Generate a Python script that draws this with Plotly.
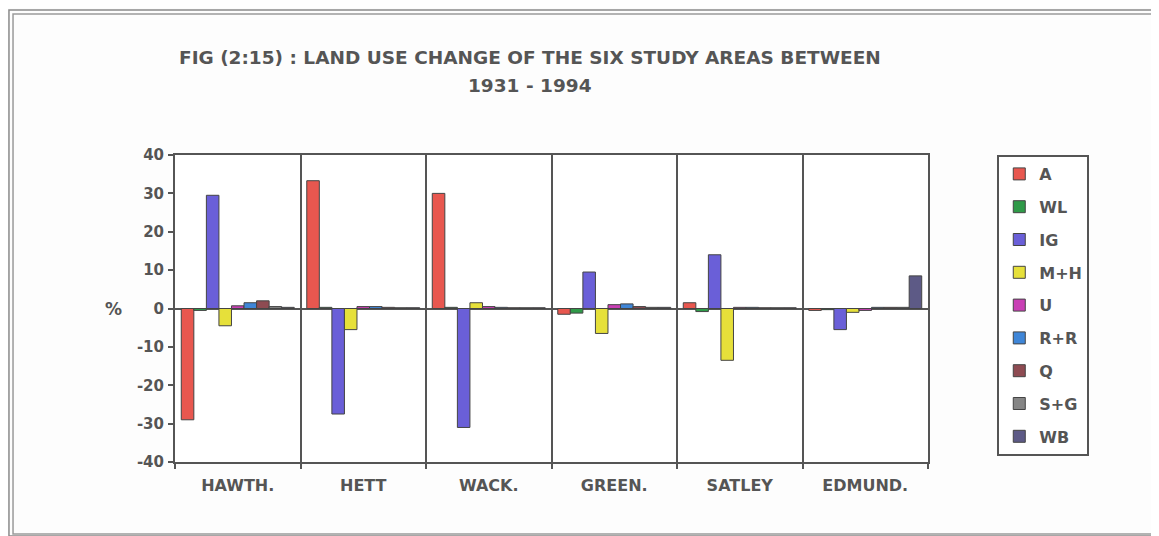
import plotly.graph_objects as go

areas = ["HAWTH.", "HETT", "WACK.", "GREEN.", "SATLEY", "EDMUND."]
series_names = ["A", "WL", "IG", "M+H", "U", "R+R", "Q", "S+G", "WB"]

A = [-29.0, 33.3, 30.0, -1.5, 1.5, -0.5]
WL = [-0.5, 0.3, 0.3, -1.2, -0.8, -0.3]
IG = [29.5, -27.5, -31.0, 9.5, 14.0, -5.5]
MH = [-4.5, -5.5, 1.5, -6.5, -13.5, -1.0]
U = [0.7, 0.5, 0.5, 1.0, 0.3, -0.5]
RR = [1.5, 0.5, 0.3, 1.2, 0.3, 0.3]
Q = [2.0, 0.3, 0.2, 0.5, 0.2, 0.3]
SG = [0.5, 0.2, 0.2, 0.3, 0.2, 0.3]
WB = [0.3, 0.2, 0.2, 0.3, 0.2, 8.5]

values = [A, WL, IG, MH, U, RR, Q, SG, WB]
colors = ["#e8574f", "#2f9a48", "#6a5fd8", "#e6e03a", "#c93fb5",
          "#3f86d8", "#8e4b52", "#858585", "#5d5a86"]

y_ticks = [-40, -30, -20, -10, 0, 10, 20, 30, 40]
y_tick_labels = [str(v) for v in y_ticks]

title_line1 = "FIG (2:15) : LAND USE CHANGE OF THE SIX STUDY AREAS BETWEEN"
title_line2 = "1931 - 1994"

TXT = "#555555"
LINE = "#555555"
FONT = "DejaVu Sans, Liberation Sans, sans-serif"

fig = go.Figure()
for name, vals, col in zip(series_names, values, colors):
    fig.add_trace(go.Bar(
        x=areas, y=vals, name=name, legendgroup=name,
        marker=dict(color=col, line=dict(color="#444444", width=1)),
    ))

fig.update_layout(
    width=1151, height=528,
    margin=dict(l=167, r=231, t=147, b=74),
    paper_bgcolor="#fdfdfd", plot_bgcolor="#ffffff",
    barmode="group", bargap=0.1, bargroupgap=0.0,
    font=dict(family=FONT, color=TXT, size=14),
    legend=dict(
        x=1.092, xanchor="left", y=1.0, yanchor="top",
        bordercolor=LINE, borderwidth=2, bgcolor="#ffffff",
        font=dict(family=FONT, size=16, color=TXT, weight="bold"),
        tracegroupgap=9, traceorder="grouped",
        itemwidth=30,
    ),
    showlegend=True,
)

fig.update_xaxes(
    type="category", tickson="boundaries",
    showgrid=True, gridcolor=LINE, gridwidth=2,
    showline=True, linecolor=LINE, linewidth=2, mirror=True,
    ticks="outside", ticklen=5, tickcolor=LINE, tickwidth=2,
    ticklabelstandoff=8,
    tickfont=dict(family=FONT, size=16, color=TXT, weight="bold"),
)
fig.update_yaxes(
    range=[-40, 40], tickvals=y_ticks, ticktext=y_tick_labels,
    showgrid=False,
    zeroline=True, zerolinecolor=LINE, zerolinewidth=2,
    showline=True, linecolor=LINE, linewidth=2, mirror=True,
    ticks="outside", ticklen=5, tickcolor=LINE, tickwidth=2,
    ticklabelstandoff=1,
    tickfont=dict(family=FONT, size=15, color=TXT, weight="bold"),
)

fig.add_annotation(
    text=title_line1, xref="paper", yref="paper", x=0.4714, y=1.316,
    xanchor="center", yanchor="middle", showarrow=False,
    font=dict(family=FONT, size=18.5, color=TXT, weight="bold"),
)
fig.add_annotation(
    text=title_line2, xref="paper", yref="paper", x=0.4714, y=1.2248,
    xanchor="center", yanchor="middle", showarrow=False,
    font=dict(family=FONT, size=18.5, color=TXT, weight="bold"),
)
fig.add_annotation(
    text="%", xref="paper", yref="paper", x=-0.095, y=0.498,
    showarrow=False, font=dict(family=FONT, size=17, color=TXT, weight="bold"),
)

# outer double frame
fig.add_shape(type="rect", xref="paper", yref="paper",
              x0=-0.2205, x1=1.3028, y0=-0.2410, y1=1.4723,
              line=dict(color="#8a8a8a", width=1.5), layer="below")
fig.add_shape(type="rect", xref="paper", yref="paper",
              x0=-0.2151, x1=1.2975, y0=-0.2345, y1=1.4593,
              line=dict(color="#9a9a9a", width=1.5), layer="below")

fig.write_html("out.html")
